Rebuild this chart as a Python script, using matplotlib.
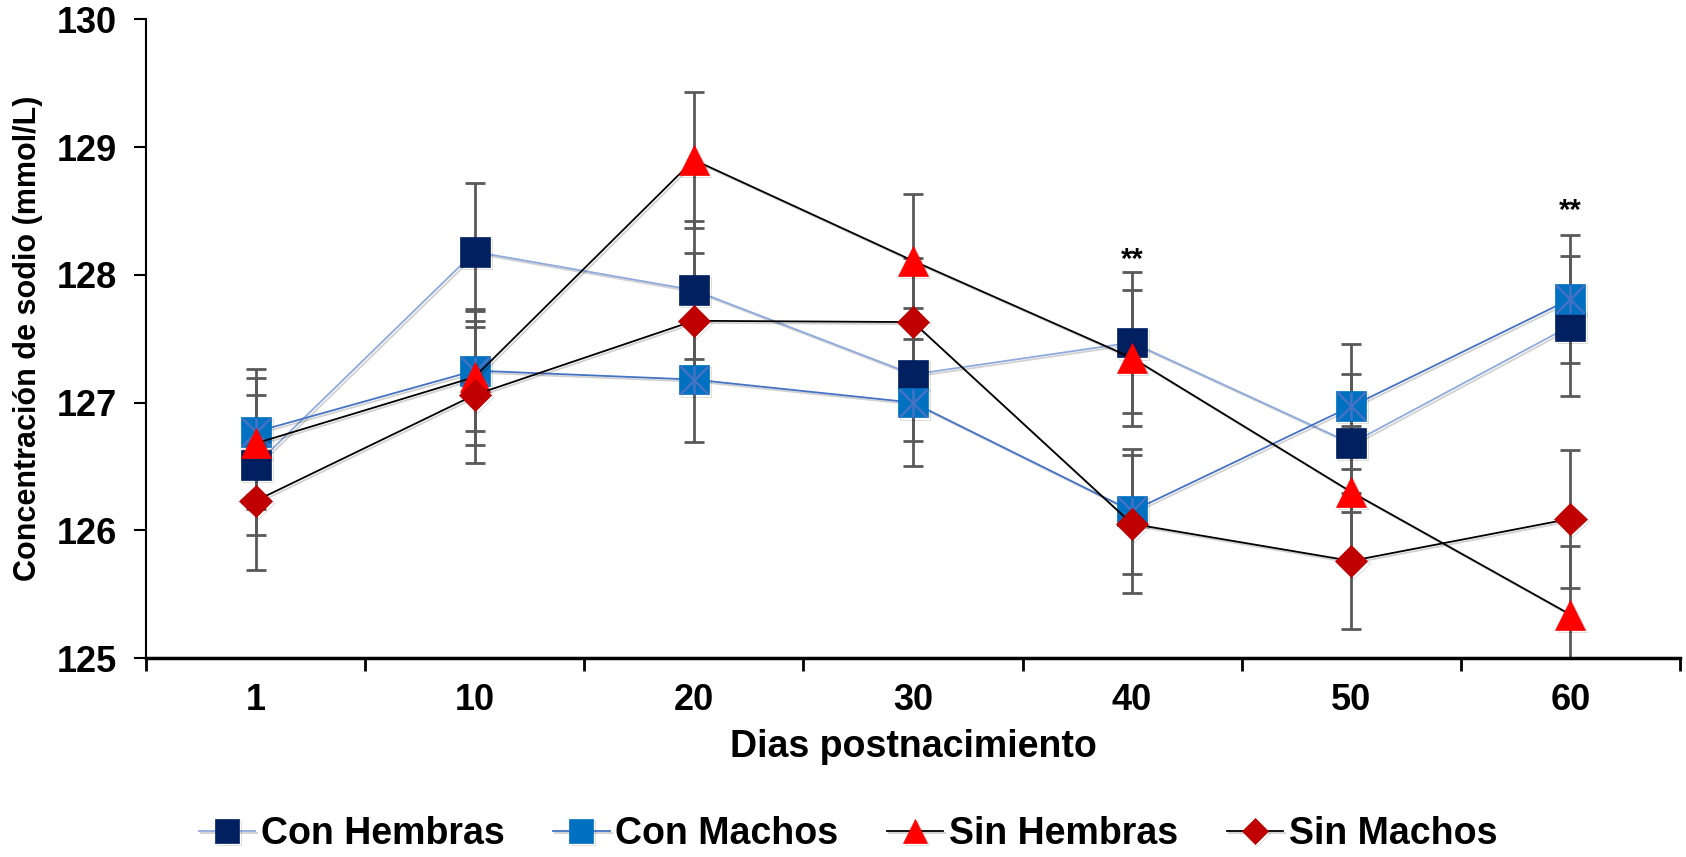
import matplotlib
matplotlib.use("Agg")
import matplotlib.pyplot as plt
import matplotlib.patheffects as pe
import numpy as np

plt.rcParams['font.family'] = ['Liberation Sans', 'DejaVu Sans']
plt.rcParams['font.weight'] = 'bold'

dias = ['1', '10', '20', '30', '40', '50', '60']

con_hembras = [126.51, 128.18, 127.88, 127.22, 127.47, 126.68, 127.60]
con_hembras_err = [0.55, 0.54, 0.54, 0.52, 0.55, 0.54, 0.55]

con_machos = [126.77, 127.25, 127.18, 127.00, 126.15, 126.97, 127.81]
con_machos_err = [0.49, 0.47, 0.49, 0.50, 0.49, 0.49, 0.50]

sin_hembras = [126.68, 127.20, 128.90, 128.11, 127.35, 126.30, 125.34]
sin_hembras_err = [0.51, 0.53, 0.53, 0.52, 0.53, 0.52, 0.54]

sin_machos = [126.23, 127.06, 127.64, 127.63, 126.05, 125.76, 126.09]
sin_machos_err = [0.54, 0.53, 0.53, 0.50, 0.54, 0.53, 0.54]

# significance marks: (day index, y value)
sig_marks = [(4, 128.12), (6, 128.50)]

fig, ax = plt.subplots(figsize=(16.86, 8.57), dpi=100)
fig.subplots_adjust(left=0.0866, right=0.9964, top=0.9774, bottom=0.2322)

x = np.arange(len(dias))
err_color = '#595959'
shadow = [pe.SimpleLineShadow(offset=(1.5, -1.5), alpha=0.18, shadow_color='k'), pe.Normal()]

series = [
    (con_hembras, con_hembras_err, 'Con Hembras', 's', '#002060', '#8EA9DB', 21.5),
    (con_machos, con_machos_err, 'Con Machos', 's', '#0070C0', '#4472C4', 21.5),
    (sin_hembras, sin_hembras_err, 'Sin Hembras', '^', '#FF0000', '#000000', 21.5),
    (sin_machos, sin_machos_err, 'Sin Machos', 'D', '#C00000', '#000000', 16.5),
]

# error bars underneath everything
for vals, errs, *_ in series:
    ax.errorbar(x, vals, yerr=errs, fmt='none', ecolor=err_color,
                elinewidth=2, capsize=7, capthick=2, zorder=2, clip_on=True)

handles = []
for i, (vals, errs, label, mk, mcol, lcol, ms) in enumerate(series):
    h, = ax.plot(x, vals, color=lcol, lw=1.3, marker=mk, markersize=ms,
                 markerfacecolor=mcol, markeredgecolor=mcol, markeredgewidth=0.5,
                 label=label, zorder=3 + i, path_effects=shadow)
    handles.append(h)
    if label == 'Con Machos':
        ax.plot(x, vals, ls='none', marker='x', markersize=ms * 0.95,
                markeredgecolor='#4472C4', markeredgewidth=1.8, zorder=3 + i)
        ax.plot(x, vals, ls='none', marker='|', markersize=ms * 0.95,
                markeredgecolor='#4472C4', markeredgewidth=1.8, zorder=3 + i)

for idx, yv in sig_marks:
    ax.text(idx, yv, '**', ha='center', va='center', fontsize=21, fontweight='bold')

ax.set_xlim(-0.5, len(dias) - 0.5)
ax.set_ylim(125, 130)
ax.set_yticks(np.arange(125, 131, 1))
ax.set_xticks(x)
ax.set_xticklabels(dias)
ax.set_xticks(np.arange(-0.5, len(dias), 1), minor=True)
ax.tick_params(axis='x', which='major', length=0, pad=18, labelsize=26)
ax.tick_params(axis='x', which='minor', length=9, width=2, direction='out')
ax.tick_params(axis='y', which='major', length=9, width=1.5, direction='out', pad=12, labelsize=26)

for s in ['top', 'right']:
    ax.spines[s].set_visible(False)
ax.spines['left'].set_linewidth(1.5)
ax.spines['bottom'].set_linewidth(2.5)

ax.set_xlabel('Dias postnacimiento', fontsize=27, fontweight='bold', labelpad=8)
ax.set_ylabel('Concentración de sodio (mmol/L)', fontsize=22, fontweight='bold', labelpad=10)

fig.legend(handles=handles, loc='center', bbox_to_anchor=(0.503, 0.027), ncol=4,
           frameon=False, fontsize=27, handlelength=1.5, columnspacing=1.3,
           handletextpad=0.15, markerscale=0.8)

fig.savefig('out.png', dpi=100)
